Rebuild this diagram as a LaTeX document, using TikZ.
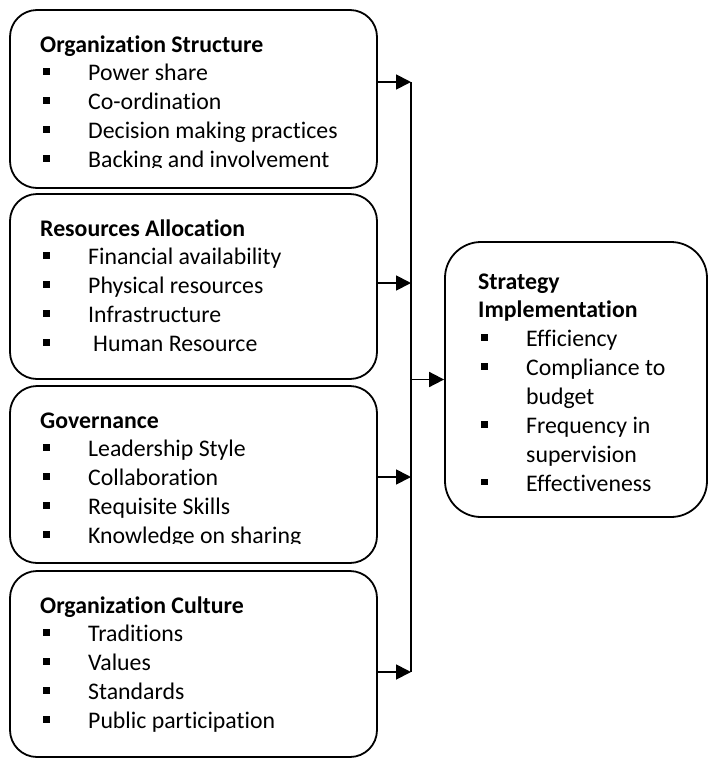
\documentclass[tikz,border=0pt]{standalone}
\usepackage{fontspec}
\setmainfont{Carlito}[RawFeature={-liga}]
\usetikzlibrary{arrows.meta}
\newcommand\bul{\hspace*{3pt}\rule[6pt]{6.5pt}{6.5pt}\hspace*{38.5pt}}
\newcommand\cont{\hspace*{48pt}}
\begin{document}
\begin{tikzpicture}[x=1pt,y=-1pt,
  box/.style={draw, line width=1.8pt, rounded corners=27pt, inner sep=0pt},
  bigbox/.style={draw, line width=1.8pt, rounded corners=36pt, inner sep=0pt},
  txt/.style={inner sep=0pt, anchor=base west, font=\fontsize{23.8}{28.9}\selectfont},
  conn/.style={line width=1.8pt},
  arr/.style={line width=1.8pt, -{Triangle[length=15pt,width=15pt]}}]
\useasboundingbox (0,0) rectangle (710,758);
% left boxes
\node[box, minimum width=367pt, minimum height=178pt] (b1) at (193.5,99) {};
\node[box, minimum width=367pt, minimum height=185pt] (b2) at (193.5,286.5) {};
\node[box, minimum width=367pt, minimum height=177pt] (b3) at (193.5,474.5) {};
\node[box, minimum width=367pt, minimum height=186pt] (b4) at (193.5,664) {};
% right box
\node[bigbox, minimum width=262pt, minimum height=275pt] (sr) at (576,379.5) {};
% texts
\begin{scope}
\clip (10,10) rectangle (377,167);
\node[txt] (t1) at (40,52) {\parbox[t]{330pt}{\textbf{Organization Structure}\par
\bul Power share\par
\bul Co-ordination\par
\bul Decision making practices\par
\bul Backing and involvement}};
\end{scope}
\node[txt] (t2) at (40,236) {\parbox[t]{330pt}{\textbf{Resources Allocation}\par
\bul Financial availability\par
\bul Physical resources\par
\bul Infrastructure\par
\bul\hspace*{5pt}Human Resource}};
\begin{scope}
\clip (10,386) rectangle (377,543);
\node[txt] (t3) at (40,428) {\parbox[t]{330pt}{\textbf{Governance}\par
\bul Leadership Style\par
\bul Collaboration\par
\bul Requisite Skills\par
\bul Knowledge on sharing}};
\end{scope}
\node[txt] (t4) at (40,613) {\parbox[t]{330pt}{\textbf{Organization Culture}\par
\bul Traditions\par
\bul Values\par
\bul Standards\par
\bul Public participation}};
\node[txt] (t5) at (478,289) {\parbox[t]{225pt}{\textbf{Strategy}\par
\textbf{Implementation}\par
\bul Efficiency\par
\bul Compliance to\par
\cont budget\par
\bul Frequency in\par
\cont supervision\par
\bul Effectiveness}};
% connectors
\coordinate (a1) at (411,82);
\coordinate (a2) at (411,283);
\coordinate (a3) at (411,477);
\coordinate (a4) at (411,672);
\coordinate (m) at (411,379.5);
\draw[conn] (a1) -- (a4);
\draw[arr] (b1.east |- a1) -- (a1);
\draw[arr] (b2.east |- a2) -- (a2);
\draw[arr] (b3.east |- a3) -- (a3);
\draw[arr] (b4.east |- a4) -- (a4);
\draw[arr] (m) -- (sr.west);
\end{tikzpicture}
\end{document}
